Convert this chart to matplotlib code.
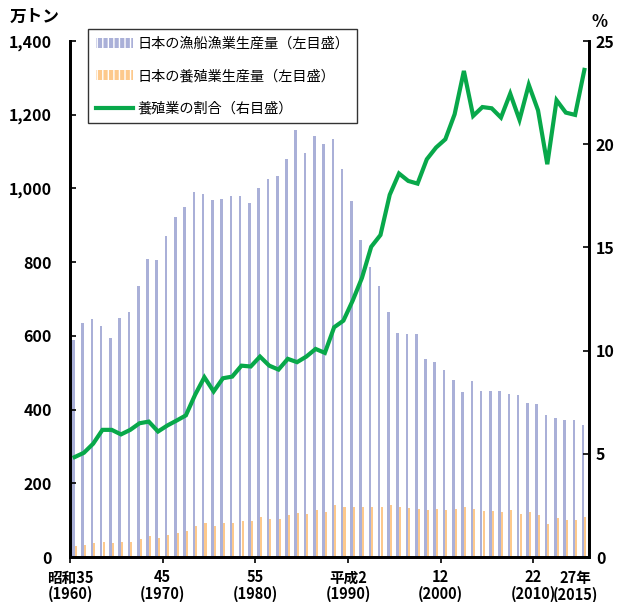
import numpy as np
import matplotlib
matplotlib.use('Agg')
import matplotlib.pyplot as plt
from matplotlib.patches import Patch
from matplotlib.lines import Line2D

plt.rcParams['font.family'] = ['Noto Sans CJK JP', 'DejaVu Sans']

# 年（昭和35年〜平成27年）
years = list(range(1960, 2016))

# 日本の漁船漁業生産量（万トン）
fishing = [589, 636, 647, 628, 595, 648, 665, 734, 809, 807,
           870, 923, 950, 989, 984, 968, 971, 979, 980, 960,
           1002, 1025, 1034, 1079, 1159, 1097, 1143, 1121, 1135, 1052,
           967, 861, 786, 735, 666, 608, 606, 606, 538, 530,
           508, 480, 448, 477, 450, 450, 450, 441, 439, 417,
           414, 384, 376, 373, 373, 357]

# 日本の養殖業生産量（万トン）
aquaculture = [29, 32, 37, 40, 37, 40, 42, 50, 56, 52,
               59, 64, 70, 84, 93, 83, 91, 93, 99, 97,
               108, 104, 102, 113, 119, 116, 127, 122, 140, 135,
               135, 135, 137, 135, 140, 137, 134, 131, 127, 129,
               127, 129, 137, 129, 125, 125, 121, 127, 117, 123,
               113, 89, 106, 101, 101, 109]

# 養殖業の割合（%）
share = [4.84, 5.05, 5.49, 6.16, 6.16, 5.94, 6.16, 6.48, 6.56, 6.08,
         6.37, 6.61, 6.86, 7.86, 8.71, 8.02, 8.66, 8.74, 9.27, 9.23,
         9.71, 9.27, 9.08, 9.60, 9.44, 9.71, 10.08, 9.89, 11.13, 11.45,
         12.42, 13.52, 15.03, 15.60, 17.55, 18.58, 18.22, 18.09, 19.27, 19.84,
         20.24, 21.45, 23.55, 21.37, 21.80, 21.74, 21.29, 22.45, 21.18, 22.88,
         21.64, 19.03, 22.13, 21.53, 21.42, 23.60]

tick_years = [1960, 1970, 1980, 1990, 2000, 2010]
tick_labels = ['昭和35\n(1960)', '45\n(1970)', '55\n(1980)',
               '平成2\n(1990)', '12\n(2000)', '22\n(2010)']
last_label = '27年\n(2015)'

BLUE = '#aab0d8'
ORANGE = '#fdc98c'
GREEN = '#08a84a'

fig = plt.figure(figsize=(6.22, 6.02), dpi=100)
ax = fig.add_axes([70 / 622, 1 - 557 / 602, 519 / 622, 516 / 602])

x = np.arange(len(years))
ax.bar(x - 0.14, fishing, width=0.28, color=BLUE, linewidth=0)
ax.bar(x + 0.12, aquaculture, width=0.22, color=ORANGE, linewidth=0)
ax.set_xlim(-0.5, len(years) - 0.5)
ax.set_ylim(0, 1400)
ax.set_yticks(range(0, 1401, 200))
ax.set_yticklabels([f'{v:,}' for v in range(0, 1401, 200)])

ax2 = ax.twinx()
ax2.plot(x, share, color=GREEN, linewidth=3.0, solid_joinstyle='miter')
ax2.set_ylim(0, 25)
ax2.set_yticks(range(0, 26, 5))

# 軸の体裁
for a in (ax, ax2):
    a.spines['top'].set_visible(False)
    for s in ('left', 'right', 'bottom'):
        a.spines[s].set_linewidth(2.0)
ax.tick_params(axis='y', direction='in', length=4, width=1.2, pad=13,
               labelsize=11.5)
ax2.tick_params(axis='y', direction='in', length=4, width=1.2, pad=5,
                labelsize=11.5)
for lab in ax.get_yticklabels() + ax2.get_yticklabels():
    lab.set_fontweight('bold')

pos = [years.index(y) - 0.5 for y in tick_years]
ax.set_xticks(pos)
ax.set_xticklabels(tick_labels, fontsize=10.5, fontweight='bold',
                   linespacing=1.0)
ax.tick_params(axis='x', direction='out', length=4, width=1.2, pad=5)
ax.text(54.0, -0.026, last_label, transform=ax.get_xaxis_transform(),
        ha='center', va='top', fontsize=10.5, fontweight='bold',
        linespacing=1.0)

fig.text(35 / 622, 1 - 17 / 602, '万トン', ha='center', va='center',
         fontsize=12, fontweight='bold')
fig.text(599 / 622, 1 - 22 / 602, '%', ha='center', va='center',
         fontsize=12, fontweight='bold')

# 凡例
handles = [
    Patch(facecolor=BLUE, edgecolor='white', hatch='|||', linewidth=0),
    Patch(facecolor=ORANGE, edgecolor='white', hatch='|||', linewidth=0),
    Line2D([], [], color=GREEN, linewidth=3.0),
]
labels = ['日本の漁船漁業生産量（左目盛）', '日本の養殖業生産量（左目盛）',
          '養殖業の割合（右目盛）']
leg = fig.legend(handles, labels, loc='upper left',
                 bbox_to_anchor=(88 / 622, 1 - 29 / 602), fontsize=10.2,
                 frameon=True, fancybox=False, borderpad=0.55,
                 labelspacing=1.3, handlelength=2.6, handletextpad=0.35,
                 borderaxespad=0)
leg.get_frame().set_edgecolor('black')
leg.get_frame().set_linewidth(1.0)

fig.savefig('out.png', dpi=100)
